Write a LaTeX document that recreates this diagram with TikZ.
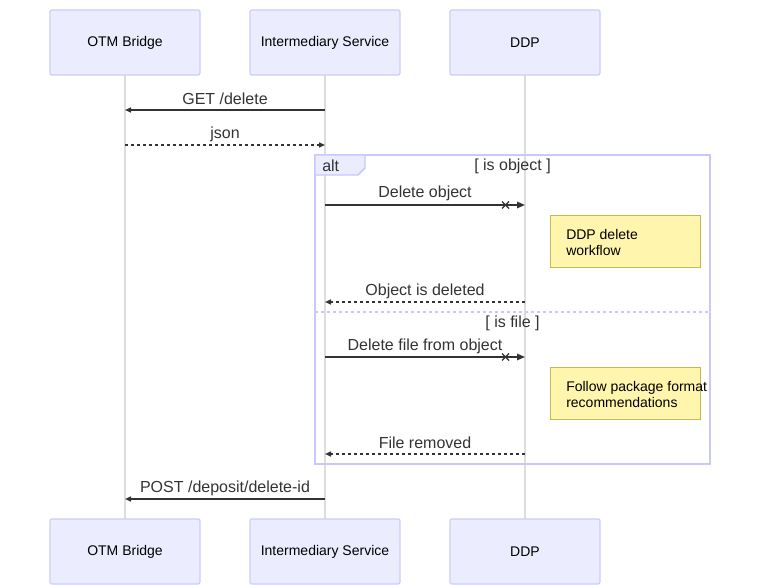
\documentclass[tikz,border=0pt]{standalone}
\usepackage{fontspec}
\setmainfont{Liberation Sans}
\usetikzlibrary{arrows.meta}
\definecolor{actfill}{RGB}{236,236,255}
\definecolor{actdraw}{RGB}{204,204,250}
\definecolor{altdraw}{RGB}{200,200,255}
\definecolor{lifeline}{RGB}{221,221,221}
\definecolor{msg}{RGB}{51,51,51}
\definecolor{notefill}{RGB}{255,245,173}
\definecolor{notedraw}{RGB}{190,190,80}
\newcommand{\acttext}[1]{\raisebox{-1.1pt}{#1}}
\begin{document}
\begin{tikzpicture}[x=0.75pt,y=-0.75pt,
  actor/.style={draw=actdraw,fill=actfill,line width=0.9pt,rounded corners=1.5pt,minimum width=150*0.75pt,minimum height=65*0.75pt,inner sep=0pt,font=\fontsize{10.5}{12}\selectfont,text=black},
  life/.style={draw=lifeline,line width=1.2pt},
  msgline/.style={draw=msg,line width=1.1pt,-{Triangle[length=6pt*0.75,width=5pt*0.75]}},
  xline/.style={draw=msg,line width=1.1pt,-{Triangle[length=8pt*0.75,width=6.5pt*0.75]}},
  msgdot/.style={msgline,dash pattern=on 2.25pt off 2.25pt},
  lbl/.style={font=\fontsize{12}{14}\selectfont,text=msg,inner sep=0pt},
  notebox/.style={draw=notedraw,fill=notefill,line width=0.75pt,minimum width=150*0.75pt,minimum height=52*0.75pt,inner sep=0pt},
  notetext/.style={font=\fontsize{10.5}{12}\selectfont,text=black,align=left,anchor=north west,inner sep=0pt}
]
\useasboundingbox (0,0) rectangle (760,585);
% lifelines
\foreach \x/\n in {125/a,325/b,525/c}{
  \coordinate (\n top) at (\x,75);
  \coordinate (\n bot) at (\x,519);
  \draw[life] (\n top) -- (\n bot);
}
% actors
\node[actor] (ta) at (125,42.5) {\acttext{OTM Bridge}};
\node[actor] (tb) at (325,42.5) {\acttext{Intermediary Service}};
\node[actor] (tc) at (525,42.5) {\acttext{DDP}};
\node[actor] (ba) at (125,551.5) {\acttext{OTM Bridge}};
\node[actor] (bb) at (325,551.5) {\acttext{Intermediary Service}};
\node[actor] (bc) at (525,551.5) {\acttext{DDP}};
% alt frame
\draw[draw=altdraw,line width=1.1pt] (315,155) rectangle (710,464);
\draw[draw=altdraw,fill=actfill,line width=1.1pt] (315,155) -- (365,155) -- (365,168) -- (358,175) -- (315,175) -- cycle;
\node[lbl,anchor=west] (altlbl) at (322,166) {alt};
\node[lbl] (cond1) at (512.5,166) {[ is object ]};
\draw[draw=altdraw,line width=1.1pt,dash pattern=on 2.25pt off 2.25pt] (315,312) -- (710,312);
\node[lbl] (cond2) at (512.5,323) {[ is file ]};
% notes
\node[notebox] (n1) at (625,241) {};
\node[notetext] (n1t) at (566,229) {DDP delete\\workflow};
\node[notebox] (n2) at (625,393) {};
\node[notetext] (n2t) at (566,381) {Follow package format\\recommendations};
% message coordinates
\coordinate (m1b) at (325,110); \coordinate (m1a) at (125,110);
\coordinate (m2a) at (125,145); \coordinate (m2b) at (325,145);
\coordinate (m3b) at (325,205); \coordinate (m3c) at (525,205);
\coordinate (m4c) at (525,302); \coordinate (m4b) at (325,302);
\coordinate (m5b) at (325,357); \coordinate (m5c) at (525,357);
\coordinate (m6c) at (525,454); \coordinate (m6b) at (325,454);
\coordinate (m7b) at (325,499); \coordinate (m7a) at (125,499);
% messages
\draw[msgline] (m1b) -- (m1a);
\node[lbl] (l1) at (225,98.5) {GET /delete};
\draw[msgdot] (m2a) -- (m2b);
\node[lbl] (l2) at (225,134) {json};
\draw[xline] (m3b) -- (m3c);
\node[lbl] (l3) at (425,193.5) {Delete object};
\draw[msgdot] (m4c) -- (m4b);
\node[lbl] (l4) at (425,291) {Object is deleted};
\draw[xline] (m5b) -- (m5c);
\node[lbl] (l5) at (425,346) {Delete file from object};
\draw[msgdot] (m6c) -- (m6b);
\node[lbl] (l6) at (425,443) {File removed};
\draw[msgline] (m7b) -- (m7a);
\node[lbl] (l7) at (225,488) {POST /deposit/delete-id};
% crosses
\foreach \y in {205,357}{
  \draw[msg,line width=1pt] (502,\y-3.5) -- (509,\y+3.5) (502,\y+3.5) -- (509,\y-3.5);
}
\end{tikzpicture}
\end{document}
